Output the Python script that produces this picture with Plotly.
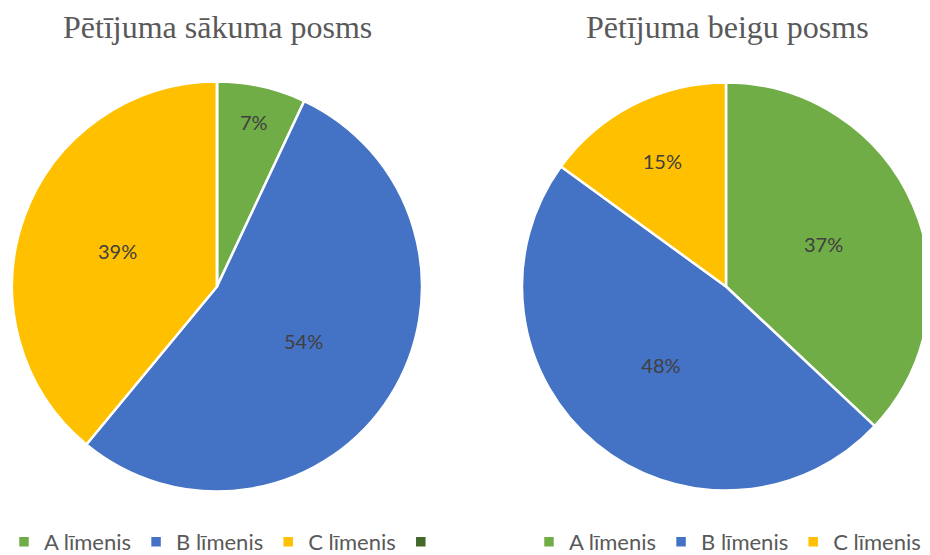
import plotly.graph_objects as go

labels_start = ["A līmenis", "B līmenis", "C līmenis", " "]
values_start = [7, 54, 39, 0]
labels_end = ["A līmenis\u200b", "B līmenis\u200b", "C līmenis\u200b"]
values_end = [37, 48, 15]
titles = ["Pētījuma sākuma posms", "Pētījuma beigu posms"]
colors = ["#70AD47", "#4472C4", "#FFC000", "#43682B"]

# page body has an 8px margin, so the figure is 8px smaller and shifted
OFF = 8
W, H = 930 - OFF, 555 - OFF


def px_x(v):
    return (v - OFF) / W


def px_y(v):
    return 1 - (v - OFF) / H


fig = go.Figure()

fig.add_trace(go.Pie(
    labels=labels_start, values=values_start, sort=False, direction="clockwise",
    rotation=0, marker=dict(colors=colors, line=dict(color="white", width=2.5)),
    texttemplate=["%{percent:.0%}", "%{percent:.0%}", "%{percent:.0%}", ""],
    textposition="inside", insidetextorientation="horizontal",
    textfont=dict(family="Lato", size=20, color="#404040"),
    domain=dict(x=[px_x(12), px_x(422)], y=[px_y(492), px_y(81)]),
    legend="legend", hoverinfo="label+percent",
))
fig.add_trace(go.Pie(
    labels=labels_end, values=values_end, sort=False, direction="clockwise",
    rotation=0, marker=dict(colors=colors[:3], line=dict(color="white", width=2.5)),
    texttemplate="%{percent:.0%}",
    textposition="inside", insidetextorientation="horizontal",
    textfont=dict(family="Lato", size=20, color="#404040"),
    domain=dict(x=[px_x(522), 1.0], y=[px_y(492), px_y(81)]),
    legend="legend2", hoverinfo="label+percent",
))

legend_common = dict(orientation="h", yanchor="middle", y=px_y(542),
                     xanchor="left", font=dict(family="Lato", size=22, color="#595959"),
                     bgcolor="rgba(0,0,0,0)", traceorder="normal", itemclick=False)
title_font = dict(family="Liberation Serif", size=32, color="#595959")
fig.update_layout(
    width=W, height=H, margin=dict(l=0, r=0, t=0, b=0, autoexpand=False),
    paper_bgcolor="white", plot_bgcolor="white",
    legend=dict(x=px_x(4), **legend_common),
    legend2=dict(x=px_x(529), **legend_common),
    annotations=[
        dict(text=titles[0], x=px_x(217), y=px_y(27.5), xref="paper", yref="paper",
             showarrow=False, xanchor="center", yanchor="middle", font=title_font),
        dict(text=titles[1], x=px_x(727), y=px_y(27.5), xref="paper", yref="paper",
             showarrow=False, xanchor="center", yanchor="middle", font=title_font),
    ],
)

fig.write_html("out.html")
